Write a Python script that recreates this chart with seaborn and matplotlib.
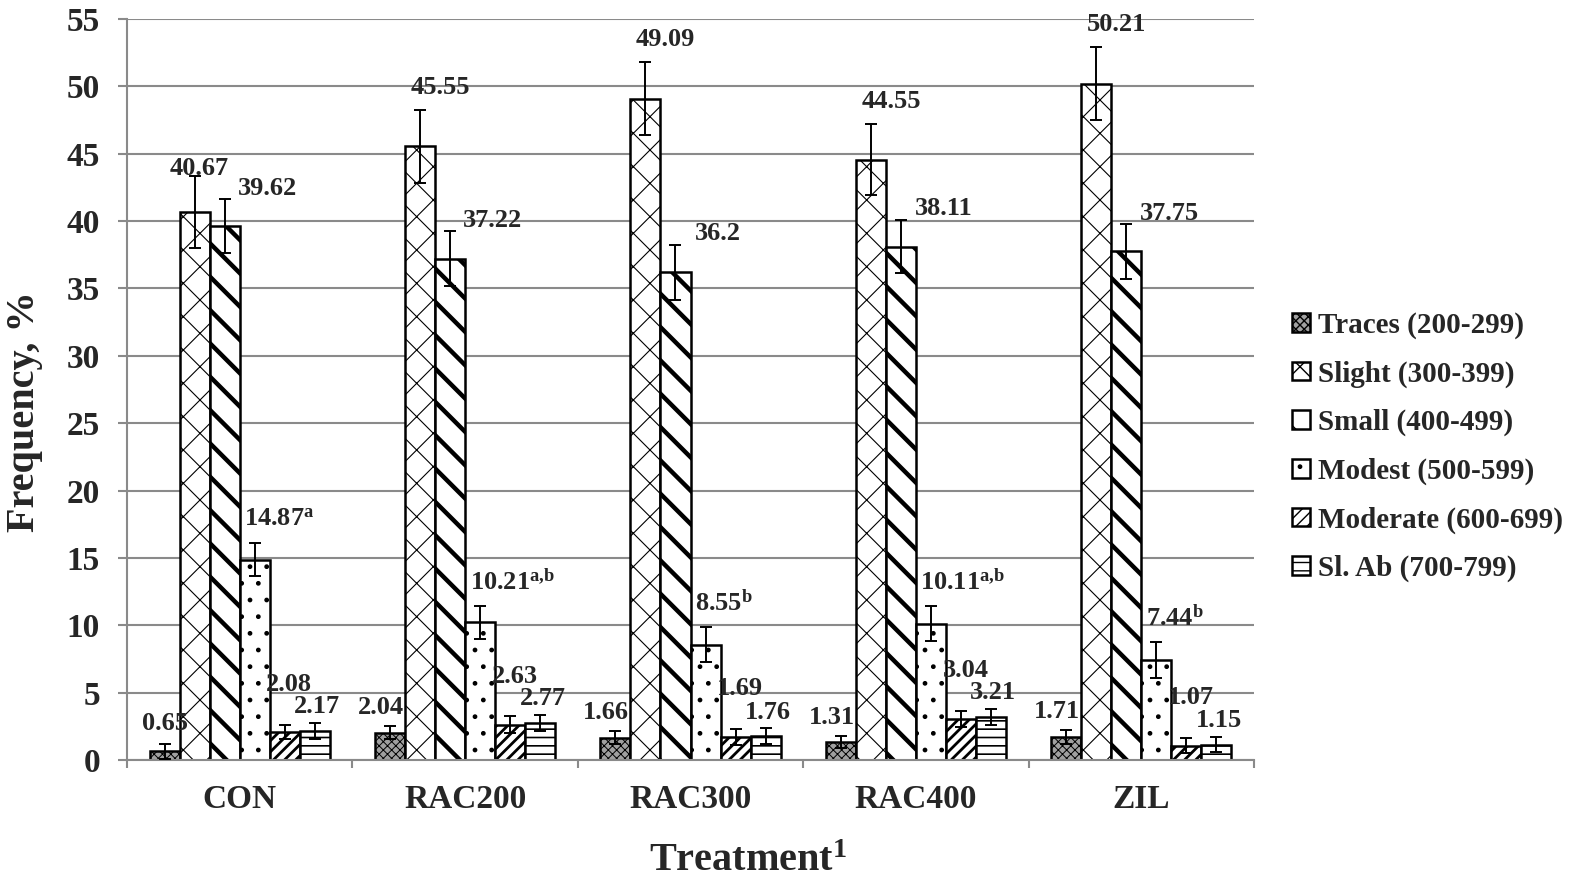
import numpy as np
import pandas as pd
import matplotlib
matplotlib.use("Agg")
import matplotlib.pyplot as plt
import seaborn as sns
from matplotlib.ticker import FixedLocator, MultipleLocator

# ---------------- data ----------------
treatments = ["CON", "RAC200", "RAC300", "RAC400", "ZIL"]
classes = ["Traces (200-299)", "Slight (300-399)", "Small (400-499)",
           "Modest (500-599)", "Moderate (600-699)", "Sl. Ab (700-799)"]

traces = [0.65, 2.04, 1.66, 1.31, 1.71]
slight = [40.67, 45.55, 49.09, 44.55, 50.21]
small = [39.62, 37.22, 36.2, 38.11, 37.75]
modest = [14.87, 10.21, 8.55, 10.11, 7.44]
moderate = [2.08, 2.63, 1.69, 3.04, 1.07]
slab = [2.17, 2.77, 1.76, 3.21, 1.15]

traces_se = [0.55, 0.45, 0.5, 0.45, 0.5]
slight_se = [2.7, 2.7, 2.7, 2.65, 2.7]
small_se = [2.0, 2.05, 2.05, 2.0, 2.05]
modest_se = [1.2, 1.25, 1.3, 1.3, 1.35]
moderate_se = [0.55, 0.6, 0.6, 0.6, 0.55]
slab_se = [0.6, 0.6, 0.6, 0.6, 0.55]

modest_sup = ["a", "a{,}b", "b", "a{,}b", "b"]

values = [traces, slight, small, modest, moderate, slab]
errors = [traces_se, slight_se, small_se, modest_se, moderate_se, slab_se]

rows = []
for cls, vals in zip(classes, values):
    for t, v in zip(treatments, vals):
        rows.append({"Treatment": t, "Class": cls, "Frequency": v})
df = pd.DataFrame(rows)

# ---------------- style ----------------
sns.set_theme(style="white")
plt.rcParams["font.family"] = ["Liberation Serif", "DejaVu Serif"]
plt.rcParams["font.weight"] = "bold"
plt.rcParams["axes.labelweight"] = "bold"
plt.rcParams["mathtext.fontset"] = "custom"
plt.rcParams["mathtext.rm"] = "Liberation Serif:bold"
plt.rcParams["mathtext.bf"] = "Liberation Serif:bold"
plt.rcParams["mathtext.it"] = "Liberation Serif:bold"
plt.rcParams["hatch.linewidth"] = 1.0

fig = plt.figure(figsize=(15.69, 8.81), dpi=100)
fig.patch.set_facecolor("white")
ax = fig.add_axes([127 / 1569, 121 / 881, 1127 / 1569, 741 / 881])

face_colors = ["#a0a0a0", "white", "white", "white", "white", "white"]
sns.barplot(data=df, x="Treatment", y="Frequency", hue="Class",
            order=treatments, hue_order=classes, palette=face_colors,
            saturation=1, edgecolor="black", linewidth=1.8,
            errorbar=None, legend=False, width=0.8, ax=ax)

bar_conts = list(ax.containers)

hatches = ["xxxx", "x", "\\", ".", "///", "--"]
hatch_lw = [0.7, 0.8, 3.2, 1.0, 2.0, 1.2]

gray = "#8a8a8a"

# per-series label placement (style): x nudge in category units, y nudge in data units
lab_dx = [-0.04, 0.09, 0.19, 0.0, 0.02, 0.01]
lab_dy = [1.4, 1.7, 0.8, 1.8, 3.0, 1.2]
# individual nudges (series index, treatment index) -> (dx, dy)
lab_override = {(1, 0): (0.02, 0.5), (0, 0): (0.0, 1.5)}

for i, cont in enumerate(bar_conts):
    xs, ys = [], []
    for j, p in enumerate(cont.patches):
        p.set_hatch(hatches[i])
        if hasattr(p, "set_hatch_linewidth"):
            p.set_hatch_linewidth(hatch_lw[i])
        xs.append(p.get_x() + p.get_width() / 2)
        ys.append(p.get_height())
    ax.errorbar(xs, ys, yerr=errors[i], fmt="none", ecolor="black",
                elinewidth=1.4, capsize=4.5, capthick=1.4, zorder=5)
    for j, p in enumerate(cont.patches):
        top = p.get_height() + errors[i][j]
        v = values[i][j]
        txt = f"{v:g}"
        dx, dy = lab_override.get((i, j), (lab_dx[i], lab_dy[i]))
        if i == 3:
            txt = txt + r"$^{\mathrm{" + modest_sup[j] + "}}$"
            ax.text(p.get_x() + 0.02, top + dy, txt, ha="left", va="center",
                    fontsize=19, fontweight="bold", zorder=6)
        else:
            xc = p.get_x() + p.get_width() / 2
            ax.text(xc + dx, top + dy, txt, ha="center",
                    va="center", fontsize=19, fontweight="bold", zorder=6)

# axes formatting
ax.set_ylim(0, 55)
ax.set_xlim(-0.5, len(treatments) - 0.5)
ax.yaxis.set_major_locator(MultipleLocator(5))
ax.yaxis.grid(True, color=gray, linewidth=1.5)
ax.xaxis.grid(False)
ax.set_axisbelow(True)
for s in ["top", "right"]:
    ax.spines[s].set_visible(False)
for s in ["left", "bottom"]:
    ax.spines[s].set_color(gray)
    ax.spines[s].set_linewidth(1.5)

ax.xaxis.set_minor_locator(FixedLocator(np.arange(-0.5, len(treatments), 1.0)))
ax.tick_params(axis="x", which="major", length=0, pad=17, labelsize=24)
ax.tick_params(axis="x", which="minor", length=6, width=1.5, color=gray,
               direction="out", bottom=True)
ax.tick_params(axis="y", which="major", length=6.5, width=1.5, color=gray,
               direction="out", left=True, pad=13, labelsize=24)
for lab in ax.get_xticklabels() + ax.get_yticklabels():
    lab.set_fontweight("bold")

ax.set_ylabel("Frequency, %", fontsize=29, fontweight="bold")
ax.yaxis.set_label_coords(-0.0745, 0.47)
ax.set_xlabel(r"Treatment$^{\mathrm{1}}$", fontsize=29, fontweight="bold")
ax.xaxis.set_label_coords(0.551, -0.112)

leg = ax.legend(bar_conts, classes, loc="center left",
                bbox_to_anchor=(1292 / 1569, 434 / 881),
                bbox_transform=fig.transFigure, frameon=False,
                prop={"size": 21, "weight": "bold"},
                handlelength=0.6, handleheight=0.6, handletextpad=0.3,
                labelspacing=0.73, borderaxespad=0, borderpad=0)

fig.savefig("out.png", dpi=100, facecolor="white")
